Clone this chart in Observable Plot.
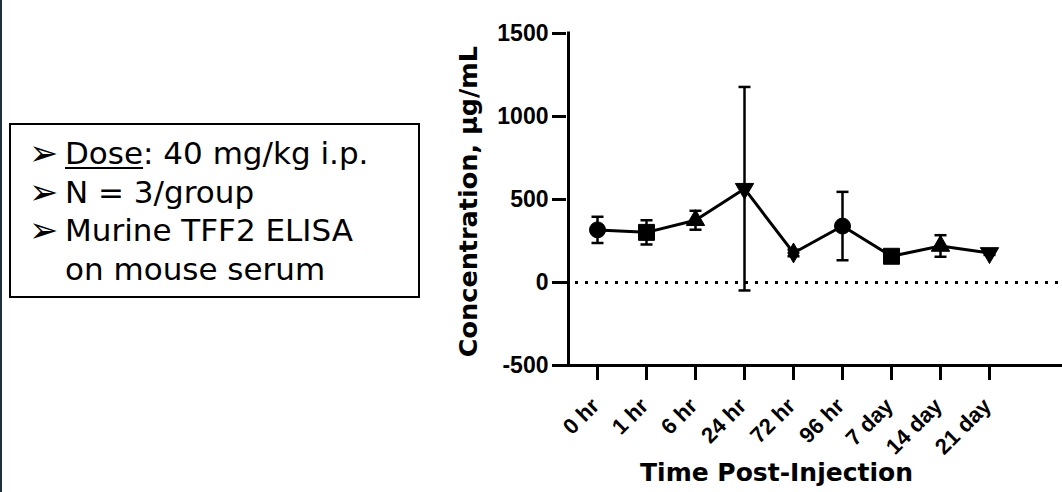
<!DOCTYPE html>
<html>
<head>
<meta charset="utf-8">
<script src="https://cdn.jsdelivr.net/npm/d3@7"></script>
<script src="https://cdn.jsdelivr.net/npm/@observablehq/plot@0.6"></script>
<style>
  html, body { margin: 0; padding: 0; background: #fff; }
  #wrap { position: relative; width: 1062px; height: 492px; overflow: hidden; background: #fff; }
  #edge { position: absolute; left: 0; top: 0; width: 2px; height: 492px; background: #1f2d3d; }
  #chart { position: absolute; left: 0; top: 0; }
  #box { position: absolute; left: 9px; top: 123px; width: 407px; height: 171px; border: 2px solid #000;
         font-family: "DejaVu Sans", Verdana, sans-serif; font-size: 31px; color: #000; }
  .ln { position: absolute; left: 0; height: 38px; line-height: 38px; white-space: nowrap; }
  .ar { position: absolute; left: 18px; top: 0px; font-size: 35px; line-height: 38px; }
  .tx { position: absolute; left: 54px; }
  .u { text-decoration: underline; text-decoration-thickness: 2px; text-underline-offset: 3px; }
</style>
</head>
<body>
<div id="wrap">
  <div id="chart"></div>
  <div id="edge"></div>
  <div id="box"></div>
</div>
<script>
// ---- data ----
const categories = ["0 hr", "1 hr", "6 hr", "24 hr", "72 hr", "96 hr", "7 day", "14 day", "21 day"];
const means = [317, 302, 375, 565, 178, 340, 158, 220, 178];
const sds = [79, 73, 57, 613, 20, 206, 12, 65, 12];
const markers = ["circle", "square", "triangle", "triangleDown", "diamond", "circle", "square", "triangle", "triangleDown"];
const yTicks = [-500, 0, 500, 1000, 1500];
const yTickLabels = ["-500", "0", "500", "1000", "1500"];
const xTitle = "Time Post-Injection";
const yTitle = "Concentration, µg/mL";
const boxLines = [
  {pre: "", u: "Dose", post: ": 40 mg/kg i.p.", arrow: true},
  {pre: "N = 3/group", u: "", post: "", arrow: true},
  {pre: "Murine TFF2 ELISA", u: "", post: "", arrow: true},
  {pre: "on mouse serum", u: "", post: "", arrow: false}
];

// ---- text box ----
const box = document.getElementById("box");
boxLines.forEach((l, i) => {
  const d = document.createElement("div");
  d.className = "ln";
  d.style.top = (9 + i * 38.5) + "px";
  if (l.arrow) {
    const a = document.createElement("span");
    a.className = "ar";
    a.textContent = "\u27A2";
    d.appendChild(a);
  }
  const t = document.createElement("span");
  t.className = "tx";
  if (l.pre) t.appendChild(document.createTextNode(l.pre));
  if (l.u) { const s = document.createElement("span"); s.className = "u"; s.textContent = l.u; t.appendChild(s); }
  if (l.post) t.appendChild(document.createTextNode(l.post));
  d.appendChild(t);
  box.appendChild(d);
});

// ---- chart ----
const data = categories.map((c, i) => ({t: c, m: means[i], lo: means[i] - sds[i], hi: means[i] + sds[i], sym: markers[i]}));

const triDown = {
  draw(ctx, size) {
    const y = Math.sqrt(size / (3 * Math.sqrt(3)));
    ctx.moveTo(0, 2 * y);
    ctx.lineTo(-Math.sqrt(3) * y, -y);
    ctx.lineTo(Math.sqrt(3) * y, -y);
    ctx.closePath();
  }
};
const cap = {
  draw(ctx, size) {
    const r = Math.sqrt(size / Math.PI);
    ctx.moveTo(-r, 0);
    ctx.lineTo(r, 0);
  }
};
const symMap = {circle: "circle", square: "square", triangle: "triangle", triangleDown: triDown, diamond: "diamond"};
const rMap = {circle: 8, square: 9, triangle: 6.8, triangleDown: 6.8, diamond: 6};

const dotMarks = Object.keys(symMap).map(k =>
  Plot.dot(data.filter(d => d.sym === k), {x: "t", y: "m", symbol: symMap[k], r: rMap[k], fill: "#000", stroke: "#000", strokeWidth: 1})
);

const font = "Liberation Sans, Arial, sans-serif";
const plot = Plot.plot({
  width: 1062,
  height: 492,
  marginLeft: 566,
  marginRight: 0,
  marginTop: 33,
  marginBottom: 127,
  style: {background: "transparent", color: "#000", fontFamily: font},
  x: {type: "point", domain: categories, range: [595, 991], padding: 0},
  y: {domain: [-500, 1500]},
  marks: [
    Plot.ruleY([0], {stroke: "#000", strokeWidth: 3, strokeDasharray: "3,7", strokeDashoffset: 1}),
    Plot.ruleX(data, {x: "t", y1: "lo", y2: "hi", stroke: "#000", strokeWidth: 2.5}),
    Plot.dot(data, {x: "t", y: "lo", symbol: cap, r: 6, stroke: "#000", strokeWidth: 2.5, fill: "none"}),
    Plot.dot(data, {x: "t", y: "hi", symbol: cap, r: 6, stroke: "#000", strokeWidth: 2.5, fill: "none"}),
    Plot.line(data, {x: "t", y: "m", stroke: "#000", strokeWidth: 3}),
    ...dotMarks,
    Plot.ruleY([-500], {stroke: "#000", strokeWidth: 3}),
    Plot.ruleX([categories[0]], {x: d => d, y1: -500, y2: 1500, dx: -29, stroke: "#000", strokeWidth: 3, strokeLinecap: "square"}),
    Plot.axisY({ticks: yTicks, tickFormat: (d) => yTickLabels[yTicks.indexOf(d)], tickSize: 14, tickPadding: 4,
      strokeWidth: 3, fontSize: 23, fontWeight: "bold", fontFamily: font, label: null}),
    Plot.axisX({tickSize: 15, strokeWidth: 3, tickFormat: () => "", label: null}),
    Plot.axisX({tickSize: 0, tickRotate: -45, fontSize: 22, fontWeight: "bold",
      fontFamily: font, label: null, dx: -2, dy: 25}),
    Plot.text([xTitle], {frameAnchor: "bottom", dx: -38, dy: 115, fontSize: 25, fontWeight: "bold",
      fontFamily: "DejaVu Sans, Verdana, sans-serif", fill: "#000"}),
    Plot.text([yTitle], {frameAnchor: "left", textAnchor: "middle", rotate: -90, dx: -98, dy: 2, fontSize: 25.5, fontWeight: "bold",
      fontFamily: "DejaVu Sans, Verdana, sans-serif", fill: "#000"})
  ]
});
document.getElementById("chart").appendChild(plot);
</script>
</body>
</html>
